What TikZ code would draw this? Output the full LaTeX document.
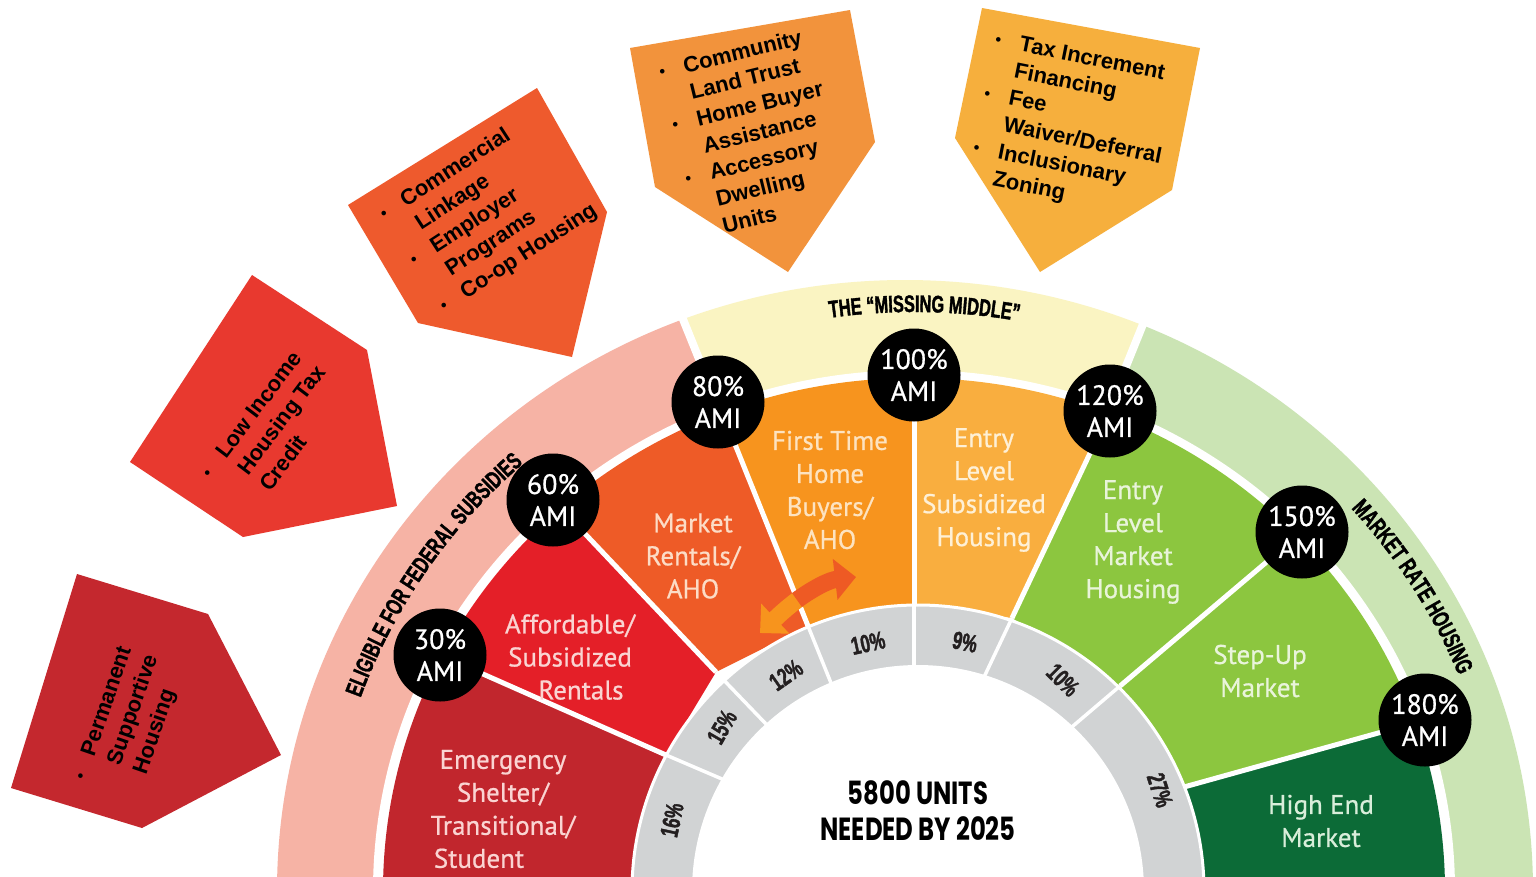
\documentclass[tikz,border=0pt]{standalone}
\usepackage{fontspec}
\setmainfont{PT Sans}[FakeBold=0.7]
\newfontfamily\callfont{Liberation Sans}
\newfontfamily\bandfont{Liberation Sans}[FakeStretch=0.68,FakeBold=1.5]
\newfontfamily\unitfont{Poppins}[FakeStretch=0.76]
\usetikzlibrary{calc,decorations.text,arrows.meta}
\definecolor{bandpink}{HTML}{F6B3A5}
\definecolor{bandyellow}{HTML}{FAF4C2}
\definecolor{bandgreen}{HTML}{CBE4B4}
\definecolor{secEmer}{HTML}{C1262D}
\definecolor{secAff}{HTML}{E41F28}
\definecolor{secRent}{HTML}{EE5B27}
\definecolor{secFirst}{HTML}{F7941E}
\definecolor{secSub}{HTML}{F9AE3F}
\definecolor{secMkt}{HTML}{8CC63F}
\definecolor{secHigh}{HTML}{0C6B37}
\definecolor{grayring}{HTML}{D1D3D4}
\definecolor{pcttext}{HTML}{231F20}
\definecolor{txtRed}{HTML}{FAD4D2}
\definecolor{txtOrange}{HTML}{FCDCC6}
\definecolor{txtFirst}{HTML}{FDE3C0}
\definecolor{txtSub}{HTML}{FEF0D6}
\definecolor{txtGreen}{HTML}{E9F4DA}
\definecolor{txtHigh}{HTML}{D9EEDA}
\definecolor{arrowR}{HTML}{EE5A24}
\definecolor{arrowL}{HTML}{F7941D}
\definecolor{calPerm}{HTML}{C4282E}
\definecolor{calLow}{HTML}{E8392F}
\definecolor{calComm}{HTML}{EE5A2D}
\definecolor{calCLT}{HTML}{F2933C}
\definecolor{calTax}{HTML}{F6AF3D}
\newcommand{\cbul}{\raisebox{1.5pt}{\fontsize{16}{16}\selectfont\textbullet}}
\tikzset{
  ami/.style={circle, fill=black, minimum size=93pt, inner sep=0pt, text=white, align=center, font=\fontsize{28}{32}\selectfont},
  seclabel/.style={align=center, font=\fontsize{27}{33}\selectfont},
  pct/.style={font=\bandfont\bfseries\fontsize{25}{25}\selectfont, text=pcttext, inner sep=0pt},
  callout/.style={anchor=base west, inner sep=0pt, font=\callfont\bfseries\fontsize{22}{27.5}\selectfont, text=black},
  sepline/.style={white, line width=5pt},
  cellline/.style={white, line width=3.5pt},
  bandtext/.style={decorate, decoration={text along path, text align=center, text={#1}}}
}
\begin{document}
\begin{tikzpicture}[x=1pt,y=1pt]
\useasboundingbox (0,0) rectangle (1536,-876);
\fill[white] (0,0) rectangle (1536,-876);
\clip (0,0) rectangle (1536,-876);
\coordinate (C) at (914,-891);
\coordinate (G) at (918,-891);
\coordinate (B) at (905,-891);
% AMI points and line ends
\coordinate (A30) at (440,-655);  \coordinate (P30) at (666,-755);  \coordinate (Q30) at (722,-779);
\coordinate (A60) at (553,-500);  \coordinate (P60) at (716,-672);  \coordinate (Q60) at (766,-724);
\coordinate (A80) at (718,-402);  \coordinate (P80) at (808,-626);  \coordinate (Q80) at (831,-683);
\coordinate (A100) at (914,-375); \coordinate (P100) at (914,-605); \coordinate (Q100) at (914,-665);
\coordinate (A120) at (1110,-411);\coordinate (P120) at (1012,-618);\coordinate (Q120) at (985,-675);
\coordinate (A150) at (1302,-532);\coordinate (P150) at (1120,-686);\coordinate (Q150) at (1073,-726);
\coordinate (A180) at (1425,-720);\coordinate (P180) at (1184,-787);
\foreach \n in {30,60,80,100,120,150,180}{\coordinate (F\n) at ($(A\n)!-0.6!(P\n)$);}
% outer bands
\begin{scope}
  \clip (B) ellipse [x radius=628, y radius=611];
  \fill[bandpink] (C) -- +(192:900) -- +(180:900) -- +(146:900) -- +(112:900) -- cycle;
  \fill[bandyellow] (C) -- +(112:900) -- +(90:900) -- +(68:900) -- cycle;
  \fill[bandgreen] (C) -- +(68:900) -- +(34:900) -- +(0:900) -- +(-12:900) -- cycle;
\end{scope}
\draw[white, line width=8] (C) -- +(112:700) (C) -- +(68:700);
\fill[white] (C) ellipse [x radius=541, y radius=521];
% sectors
\begin{scope}
  \clip (C) ellipse [x radius=531, y radius=513];
  \fill[secEmer] (F30) -- (A30) -- (P30) -- (680,-950) -- (250,-950) -- (250,-560) -- cycle;
  \fill[secAff] (F30) -- (A30) -- (P30) -- (P60) -- (A60) -- (F60) -- cycle;
  \fill[secRent] (F60) -- (A60) -- (P60) -- (P80) -- (A80) -- (F80) -- cycle;
  \fill[secFirst] (F80) -- (A80) -- (P80) -- (P100) -- (A100) -- (F100) -- cycle;
  \fill[secSub] (F100) -- (A100) -- (P100) -- (P120) -- (A120) -- (F120) -- cycle;
  \fill[secMkt] (F120) -- (A120) -- (P120) -- (P150) -- (A150) -- (F150) -- cycle;
  \fill[secMkt] (F150) -- (A150) -- (P150) -- (P180) -- (A180) -- (F180) -- cycle;
  \fill[secHigh] (F180) -- (A180) -- (P180) -- (1184,-950) -- (1650,-950) -- (1650,-600) -- cycle;
\end{scope}
\foreach \n in {30,60,80,100,120,150,180}{\draw[sepline] (A\n) -- (P\n);}
% double arrow
\draw[arrowL, line width=17pt, -{Triangle[length=21pt,width=40pt]}] (800,-598) .. controls (786,-608) and (776,-618) .. (760,-633);
\draw[arrowR, line width=17pt, -{Triangle[length=21pt,width=40pt]}] (797,-600) .. controls (815,-587) and (830,-580) .. (856,-577);
% gray ring
\fill[grayring] (G) circle [radius=286];
\foreach \n in {30,60,80,100,120,150}{\draw[cellline] (P\n) -- ($(P\n)!1.5!(Q\n)$);}
\draw[white, line width=3pt] (G) circle [radius=286];
\fill[white] (G) circle [radius=226];
\node[pct, rotate=78] (p16) at (672,-820) {16\%};
\node[pct, rotate=60] (p15) at (722,-727) {15\%};
\node[pct, rotate=35] (p12) at (786,-675) {12\%};
\node[pct, rotate=12] (p10a) at (868,-643) {10\%};
\node[pct, rotate=-12] (p9) at (965,-642) {9\%};
\node[pct, rotate=-45] (p10b) at (1063,-680) {10\%};
\node[pct, rotate=-72] (p27) at (1160,-790) {27\%};
% sector labels
\node[seclabel, text=txtRed] (lEmer) at (503,-809) {Emergency\\Shelter/\\Transitional/\\Student\hspace*{48pt}};
\node[seclabel, text=txtRed] (lAff) at (570,-657) {Affordable/\\Subsidized\\\hspace*{22pt}Rentals};
\node[seclabel, text=txtOrange] (lRent) at (693,-556) {Market\\Rentals/\\AHO};
\node[seclabel, text=txtFirst] (lFirst) at (830,-490) {First Time\\Home\\Buyers/\\AHO};
\node[seclabel, text=txtSub] (lSub) at (984,-490) {Entry\\Level\\Subsidized\\Housing};
\node[seclabel, text=txtGreen] (lMkt) at (1133,-542) {Entry\\Level\\Market\\Housing};
\node[seclabel, text=txtGreen] (lStep) at (1260,-671) {Step-Up\\Market};
\node[seclabel, text=txtHigh] (lHigh) at (1321,-821) {High End\\Market};
% AMI circles
\node[ami] (c30) at (A30) {30\%\\AMI};
\node[ami] (c60) at (A60) {60\%\\AMI};
\node[ami] (c80) at (A80) {80\%\\AMI};
\node[ami] (c100) at (A100) {100\%\\AMI};
\node[ami] (c120) at (A120) {120\%\\AMI};
\node[ami] (c150) at (A150) {150\%\\AMI};
\node[ami] (c180) at (A180) {180\%\\AMI};
% band titles
\path[bandtext={|\bandfont\bfseries\fontsize{24}{24}\selectfont|ELIGIBLE FOR FEDERAL SUBSIDIES}]
  ($(C)+(166:588 and 572)$) arc[start angle=166, end angle=126, x radius=588, y radius=572];
\path[bandtext={|\bandfont\bfseries\fontsize{24}{24}\selectfont|MARKET RATE HOUSING}]
  ($(C)+(52:588 and 572)$) arc[start angle=52, end angle=12, x radius=588, y radius=572];
\path[bandtext={|\bandfont\bfseries\fontsize{24}{24}\selectfont|THE “MISSING MIDDLE”}]
  ($(C)+(101:595 and 579)$) arc[start angle=101, end angle=77, x radius=595, y radius=579];
% callouts
\fill[calPerm] (77,-574) -- (208,-614) -- (281,-755) -- (142,-828) -- (11,-788) -- cycle;
\fill[calLow] (252,-275) -- (367,-350) -- (397,-506) -- (243,-537) -- (130,-462) -- cycle;
\fill[calComm] (348,-205) -- (537,-88) -- (607,-212) -- (572,-357) -- (418,-323) -- cycle;
\fill[calCLT] (630,-48) -- (850,-10) -- (875,-142) -- (788,-272) -- (655,-187) -- cycle;
\fill[calTax] (982,-8) -- (1200,-48) -- (1172,-190) -- (1040,-272) -- (955,-138) -- cycle;
\node[callout, rotate=71] (tPerm) at (86,-781) {\begin{tabular}[t]{@{}p{25pt}@{}l@{}}\cbul & Permanent\\ & Supportive\\ & Housing\end{tabular}};
\node[callout, rotate=53] (tLow) at (211,-480) {\begin{tabular}[t]{@{}p{25pt}@{}l@{}}\cbul & Low Income\\ & Housing Tax\\ & Credit\end{tabular}};
\node[callout, rotate=33] (tComm) at (385,-221) {\begin{tabular}[t]{@{}p{25pt}@{}l@{}}\cbul & Commercial\\ & Linkage\\ \cbul & Employer\\ & Programs\\ \cbul & Co-op Housing\end{tabular}};
\node[callout, rotate=13.7] (tCLT) at (661,-79) {\begin{tabular}[t]{@{}p{25pt}@{}l@{}}\cbul & Community\\ & Land Trust\\ \cbul & Home Buyer\\ & Assistance\\ \cbul & Accessory\\ & Dwelling\\ & Units\end{tabular}};
\node[callout, rotate=-11.3] (tTax) at (994,-46) {\begin{tabular}[t]{@{}p{25pt}@{}l@{}}\cbul & Tax Increment\\ & Financing\\ \cbul & Fee\\ & Waiver/Deferral\\ \cbul & Inclusionary\\ & Zoning\end{tabular}};
% centre text
\node[font=\unitfont\bfseries\fontsize{32}{36}\selectfont, align=center, text=black] (units) at (918,-811) {5800 UNITS\\NEEDED BY 2025};
\end{tikzpicture}
\end{document}
